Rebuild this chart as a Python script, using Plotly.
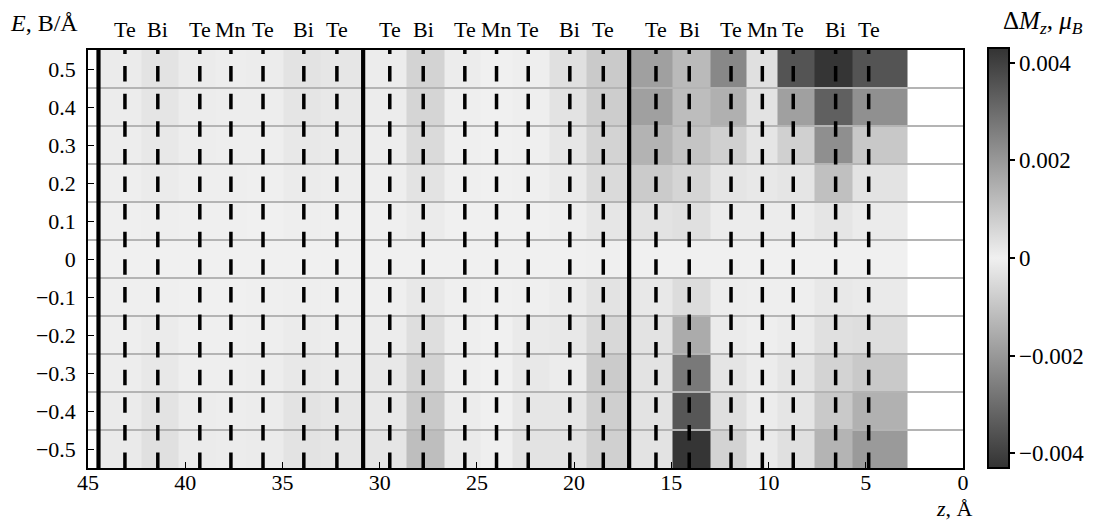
import numpy as np
import plotly.graph_objects as go

# ---------------- data ----------------
E_field = [0.5, 0.4, 0.3, 0.2, 0.1, 0.0, -0.1, -0.2, -0.3, -0.4, -0.5]   # B/Å
atom_labels = ["Te", "Bi", "Te", "Mn", "Te", "Bi", "Te"] * 3
atom_z = [43.10, 41.41, 39.25, 37.65, 36.00, 33.90, 32.20,
          29.48, 27.76, 25.62, 23.99, 22.36, 20.22, 18.50,
          15.79, 14.08, 11.93, 10.32, 8.73, 6.55, 4.85]                # Å
vdw_gap_z = [44.46, 30.85, 17.17]   # septuple-layer boundaries, Å
surface_z = 2.87                    # outer edge of last layer cell, Å

# ΔMz in units of 1e-3 μB; rows follow E_field, columns follow atom_z
dMz_milli = [
    [0.11, 0.30, 0.11, 0.07, 0.09, 0.30, 0.23,  0.09, 0.66, 0.09, 0.00, 0.05, 0.36, 0.87,  1.82, 1.23, 2.37, 0.36, 3.54, 4.25, 3.54],
    [0.09, 0.25, 0.09, 0.07, 0.07, 0.25, 0.18,  0.09, 0.62, 0.05, 0.00, 0.05, 0.30, 0.80,  1.82, 1.16, 1.46, 0.30, 1.82, 3.28, 2.19],
    [0.07, 0.18, 0.07, 0.05, 0.05, 0.18, 0.14,  0.07, 0.50, 0.02, 0.00, 0.02, 0.23, 0.66,  1.39, 1.00, 0.73, 0.25, 0.73, 2.21, 0.91],
    [0.05, 0.11, 0.05, 0.05, 0.02, 0.11, 0.07,  0.05, 0.30, 0.02, 0.00, 0.02, 0.14, 0.50,  0.84, 0.62, 0.25, 0.18, 0.25, 1.09, 0.30],
    [0.02, 0.05, 0.02, 0.02, 0.00, 0.05, 0.02,  0.02, 0.11, 0.00, 0.00, 0.00, 0.05, 0.23,  0.30, 0.36, 0.09, 0.09, 0.09, 0.25, 0.11],
    [0.00, 0.00, 0.00, 0.00, 0.00, 0.00, 0.00,  0.00, 0.00, 0.00, 0.00, 0.00, 0.00, 0.02,  0.00, 0.00, 0.00, 0.00, 0.00, 0.00, 0.00],
    [-0.02, -0.02, 0.00, 0.00, -0.02, -0.04, -0.02,  -0.02, -0.18, -0.02, 0.00, -0.02, -0.09, -0.29,  -0.18, -0.45, -0.06, -0.04, -0.04, -0.18, -0.13],
    [-0.04, -0.11, -0.02, -0.02, -0.04, -0.11, -0.06,  -0.09, -0.40, -0.04, 0.00, -0.13, -0.18, -0.54,  -0.29, -1.57, -0.11, -0.04, -0.11, -0.36, -0.42],
    [-0.06, -0.18, -0.04, -0.04, -0.06, -0.18, -0.13,  -0.18, -0.65, -0.04, 0.00, -0.18, -0.09, -0.85,  -0.29, -2.70, -0.25, -0.09, -0.25, -0.65, -0.89],
    [-0.11, -0.29, -0.09, -0.06, -0.09, -0.29, -0.23,  -0.18, -0.89, -0.09, 0.00, -0.23, -0.23, -0.74,  -0.29, -3.47, -0.38, -0.09, -0.25, -0.89, -1.43],
    [-0.13, -0.36, -0.11, -0.09, -0.11, -0.29, -0.25,  -0.25, -1.14, -0.13, -0.02, -0.29, -0.29, -0.72,  -0.29, -4.25, -0.65, -0.13, -0.36, -1.37, -1.95],
]

x_ticks = [45, 40, 35, 30, 25, 20, 15, 10, 5, 0]
y_ticks = [0.5, 0.4, 0.3, 0.2, 0.1, 0.0, -0.1, -0.2, -0.3, -0.4, -0.5]
y_ticktext = ["0.5", "0.4", "0.3", "0.2", "0.1", "0", "\u22120.1", "\u22120.2", "\u22120.3", "\u22120.4", "\u22120.5"]
cb_ticks = [0.004, 0.002, 0.0, -0.002, -0.004]
cb_ticktext = ["0.004", "0.002", "0", "\u22120.002", "\u22120.004"]
z_min, z_max = -0.0043, 0.0043

# ---------------- build ----------------
FONT = "Liberation Serif"
FS = 22

# page offset: body margin of 8 px
OFF = 8
PL, PR, PT, PB = 88, 963, 50, 468   # plot area in page pixels
FW, FH = 1081, 513
ml, mt = PL - OFF, PT - OFF
mr = OFF + FW - PR
mb = OFF + FH - PB
pw = PR - PL
ph = PB - PT

az = np.array(atom_z)
edges = [vdw_gap_z[0]] + list((az[:-1] + az[1:]) / 2) + [surface_z]
x_edges = np.array(edges)[::-1]
Z = np.array(dMz_milli) * 1e-3
Z = Z[::-1, ::-1]
y_cent = np.array(E_field)[::-1]

p0 = -z_min / (z_max - z_min)
cscale = [[0.0, "#333333"], [p0, "#f0f0f0"], [1.0, "#333333"]]

fig = go.Figure()
fig.add_trace(go.Heatmap(
    x=x_edges, y=y_cent, z=Z, zmin=z_min, zmax=z_max,
    colorscale=cscale, hoverinfo="skip",
    colorbar=dict(
        x=(988 - PL) / pw, xanchor="left", xpad=0,
        y=1.0 + 2 / ph, yanchor="top", ypad=0,
        len=420, lenmode="pixels", thickness=21,
        outlinewidth=2, outlinecolor="black",
        tickmode="array", tickvals=cb_ticks, ticktext=cb_ticktext,
        ticks="outside", ticklen=5, tickwidth=1.5, tickcolor="black",
        tickfont=dict(family=FONT, size=23, color="black"),
    ),
))

shapes = []
E_arr = np.array(E_field)
for yb in (E_arr[:-1] + E_arr[1:]) / 2:
    shapes.append(dict(type="line", xref="paper", yref="y", x0=0, x1=1, y0=yb, y1=yb,
                       line=dict(color="#b4b4b4", width=2), layer="above"))
for zz in atom_z:
    shapes.append(dict(type="line", xref="x", yref="paper", x0=zz, x1=zz, y0=0, y1=1,
                       line=dict(color="black", width=3.5, dash="15.5px,12.1px"), layer="above"))
for zz in vdw_gap_z:
    shapes.append(dict(type="line", xref="x", yref="paper", x0=zz, x1=zz, y0=0, y1=1,
                       line=dict(color="black", width=4.2), layer="above"))

annotations = []
for zz, lab in zip(atom_z, atom_labels):
    annotations.append(dict(x=zz, xref="x", y=1 + (PT - 30) / ph, yref="paper", text=lab, showarrow=False,
                            xanchor="center", yanchor="middle",
                            font=dict(family=FONT, size=FS, color="black")))
annotations.append(dict(x=(8 - PL) / pw, xref="paper", y=1 + (PT - 23) / ph, yref="paper",
                        text="<i>E</i>, B/Å", showarrow=False, xanchor="left", yanchor="middle",
                        font=dict(family=FONT, size=24, color="black")))
annotations.append(dict(x=(1043 - PL) / pw, xref="paper", y=1 + (PT - 22) / ph, yref="paper",
                        text="Δ<i>M</i><sub><i>z</i></sub>, <i>μ</i><sub><i>B</i></sub>",
                        showarrow=False, xanchor="center", yanchor="middle",
                        font=dict(family=FONT, size=25, color="black")))
annotations.append(dict(x=(954 - PL) / pw, xref="paper", y=-(508 - PB) / ph, yref="paper",
                        text="<i>z</i>, Å", showarrow=False, xanchor="center", yanchor="middle",
                        font=dict(family=FONT, size=FS, color="black")))

fig.update_layout(
    width=FW, height=FH,
    margin=dict(l=ml, r=mr, t=mt, b=mb, autoexpand=False),
    paper_bgcolor="white", plot_bgcolor="white",
    font=dict(family=FONT, size=FS, color="black"),
    shapes=shapes, annotations=annotations,
    xaxis=dict(range=[45, 0], tickmode="array", tickvals=x_ticks,
               ticktext=[str(t) for t in x_ticks],
               ticks="inside", ticklen=6, tickwidth=1.3, tickcolor="black",
               showline=True, linecolor="black", linewidth=1.5, mirror=True,
               showgrid=False, zeroline=False, ticklabelstandoff=-6,
               tickfont=dict(family=FONT, size=FS, color="black")),
    yaxis=dict(range=[-0.55, 0.55], tickmode="array", tickvals=y_ticks, ticktext=y_ticktext,
               ticks="inside", ticklen=6, tickwidth=1.3, tickcolor="black",
               minor=dict(ticks="inside", ticklen=3, tickwidth=1.1, tickcolor="black", dtick=0.05, tick0=0.05),
               showline=True, linecolor="black", linewidth=1.5, mirror=True,
               showgrid=False, zeroline=False, ticklabelstandoff=6,
               tickfont=dict(family=FONT, size=FS, color="black")),
)

fig.write_html("out.html")
